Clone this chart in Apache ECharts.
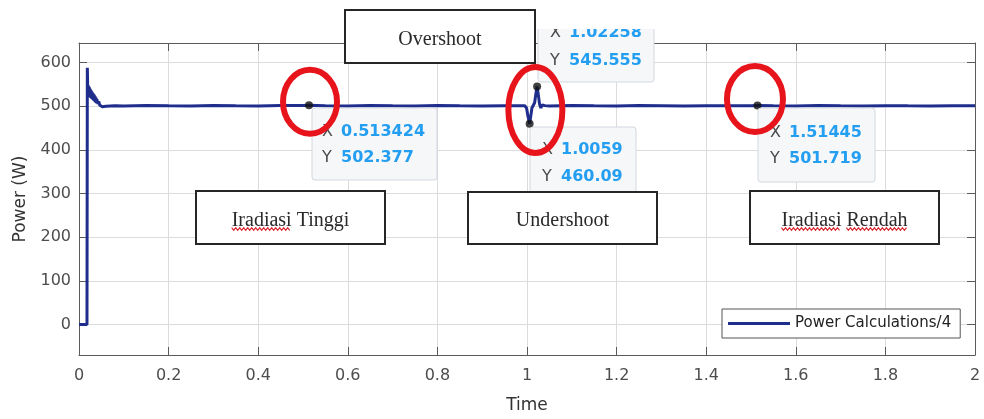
<!DOCTYPE html>
<html><head><meta charset="utf-8">
<script src="https://cdn.jsdelivr.net/npm/echarts@6/dist/echarts.min.js"></script>
<style>html,body{margin:0;padding:0;background:#fff}#c{width:984px;height:419px}</style>
</head><body><div id="c"></div>
<script>
const seriesName = 'Power Calculations/4';
const timeValues = [0, 0.0178, 0.0186, 0.0192, 0.0198, 0.0204, 0.021, 0.0216, 0.0222, 0.0228, 0.0234, 0.024, 0.0246, 0.0252, 0.0258, 0.0264, 0.027, 0.0276, 0.0282, 0.0288, 0.0294, 0.03, 0.031, 0.032, 0.033, 0.034, 0.035, 0.036, 0.037, 0.038, 0.039, 0.04, 0.042, 0.044, 0.046, 0.048, 0.05, 0.052, 0.055, 0.06, 0.08, 0.1, 0.15, 0.2, 0.25, 0.3, 0.35, 0.4, 0.45, 0.5, 0.513424, 0.55, 0.6, 0.65, 0.7, 0.75, 0.8, 0.85, 0.9, 0.95, 0.995, 0.999, 1.002, 1.0059, 1.0085, 1.011, 1.014, 1.017, 1.02, 1.02258, 1.025, 1.028, 1.031, 1.034, 1.037, 1.04, 1.05, 1.1, 1.15, 1.2, 1.25, 1.3, 1.35, 1.4, 1.45, 1.5, 1.51445, 1.55, 1.6, 1.65, 1.7, 1.75, 1.8, 1.85, 1.9, 1.95, 2.0];
const powerValues = [0, 0, 588, 556, 522, 548, 524, 546, 523, 544, 522, 541, 521, 539, 520, 537, 519, 535, 518, 533, 517, 531, 515, 529, 513, 526, 511, 523, 509, 520, 507, 516, 505, 511, 503, 506, 501, 499, 498, 500, 501.2, 500.6, 501.8, 501.1, 500.7, 501.9, 501.3, 500.9, 502.0, 501.6, 502.377, 501.3, 500.9, 501.7, 501.1, 500.7, 501.6, 501.0, 500.8, 501.4, 501.2, 496, 478, 460.09, 478, 496, 500, 508, 530, 545.555, 528, 505, 496, 503, 499, 501.5, 500.4, 501.6, 501.0, 500.8, 501.5, 501.1, 500.7, 501.4, 501.0, 501.2, 501.719, 501.1, 500.8, 501.5, 501.0, 500.7, 501.4, 501.1, 500.9, 501.3, 501.0];
const yTickValues = [0, 100, 200, 300, 400, 500, 600];
const tipTimes = [0.513424, 1.02258, 1.0059, 1.51445];
const tipPowers = [502.377, 545.555, 460.09, 501.719];
const tipLabelsX = ['0.513424', '1.02258', '1.0059', '1.51445'];
const tipLabelsY = ['502.377', '545.555', '460.09', '501.719'];
const annotationTexts = ['Overshoot', 'Iradiasi Tinggi', 'Undershoot', 'Iradiasi Rendah'];

const chart = echarts.init(document.getElementById('c'));
const SANS = 'DejaVu Sans';
const axisColor = '#5a5a5a';
const gridColor = '#dcdcdc';
const labelColor = '#4d4d4d';

const linePairs = timeValues.map((t, i) => [t, powerValues[i]]);
const tipPairs = tipTimes.map((t, i) => [t, tipPowers[i]]);

const baseX = {
  type: 'value', min: 0, max: 2, interval: 0.2,
  axisLine: { show: true, onZero: false, lineStyle: { color: axisColor, width: 1 } },
  axisTick: { show: true, inside: true, length: 8, lineStyle: { color: axisColor } }
};
const baseY = {
  type: 'value', min: -70, max: 645,
  axisLine: { show: true, onZero: false, lineStyle: { color: axisColor, width: 1 } },
  axisTick: { show: true, inside: true, length: 8, customValues: yTickValues, lineStyle: { color: axisColor } }
};

chart.setOption({
  animation: false,
  backgroundColor: '#fff',
  grid: { left: 79, right: 9, top: 43, bottom: 62, containLabel: false },
  legend: {
    data: [seriesName], left: 722, top: 309,
    icon: 'rect', itemWidth: 62, itemHeight: 3,
    padding: [7, 9, 7, 6],
    backgroundColor: '#fff', borderColor: '#555', borderWidth: 1,
    textStyle: { fontFamily: SANS, fontSize: 15, color: '#222' }
  },
  xAxis: [
    Object.assign({}, baseX, {
      position: 'bottom',
      axisLabel: { margin: 13, fontFamily: SANS, fontSize: 16, color: labelColor },
      splitLine: { show: true, lineStyle: { color: gridColor, width: 1 } },
      name: 'Time', nameLocation: 'middle', nameGap: 42,
      nameTextStyle: { fontFamily: SANS, fontSize: 17, color: '#333' }
    }),
    Object.assign({}, baseX, {
      position: 'top', axisLabel: { show: false }, splitLine: { show: false }
    })
  ],
  yAxis: [
    Object.assign({}, baseY, {
      position: 'left',
      axisLabel: { margin: 8, fontFamily: SANS, fontSize: 16, color: labelColor, customValues: yTickValues },
      splitLine: { show: true, lineStyle: { color: gridColor, width: 1 } },
      name: 'Power (W)', nameLocation: 'middle', nameGap: 46, nameRotate: 90,
      nameTextStyle: { fontFamily: SANS, fontSize: 17, color: '#333' }
    }),
    Object.assign({}, baseY, {
      position: 'right', axisLabel: { show: false, customValues: yTickValues }, splitLine: { show: false }
    })
  ],
  series: [
    {
      type: 'line', name: seriesName, data: linePairs, showSymbol: false,
      lineStyle: { color: '#1f2d8c', width: 3 }, itemStyle: { color: '#1f2d8c' },
      z: 2, silent: true
    },
    {
      type: 'scatter', name: 'tips', data: tipPairs, symbolSize: 8,
      itemStyle: { color: '#111' }, z: 5, silent: true
    }
  ]
});

// annotations
const px = p => chart.convertToPixel({ xAxisIndex: 0, yAxisIndex: 0 }, p);
const tp = tipPairs.map(px);
const graphics = [];

// datatip boxes: [left, top, width, height, keyX, line1Y, line2Y]
const tipBoxes = [
  [312, 108, 125, 72, 322, 132, 158],
  [538, -10, 116, 92, 550, 33, 61],
  [530, 127, 106, 75, 542, 150, 177],
  [758, 108, 117, 74, 770, 133, 159]
];
tipBoxes.forEach((b, i) => {
  graphics.push({ type: 'rect', shape: { x: b[0], y: b[1], width: b[2], height: b[3], r: 3 },
    style: { fill: '#f6f7f9', stroke: '#d3d8df', lineWidth: 1 }, z: 10 });
  [[b[5], 'X', tipLabelsX[i]], [b[6], 'Y', tipLabelsY[i]]].forEach(r => {
    graphics.push({ type: 'text', x: b[4], y: r[0], z: 11,
      style: { text: r[1], fill: '#4a4a4a', font: '16px "DejaVu Sans"', verticalAlign: 'middle' } });
    graphics.push({ type: 'text', x: b[4] + 19, y: r[0], z: 11,
      style: { text: r[2], fill: '#239ef0', font: 'bold 16px "DejaVu Sans"', verticalAlign: 'middle' } });
  });
});
// cut top of tip 2
graphics.push({ type: 'rect', shape: { x: 536, y: 0, width: 130, height: 29 }, style: { fill: '#fff' }, z: 12 });

// text boxes
const boxes = [
  [345, 10, 190, 53, 40],
  [196, 191, 189, 53, 221],
  [468, 192, 189, 52, 221],
  [750, 191, 189, 53, 221]
];
const serifFont = '20px "Liberation Serif"';
const ctx = document.createElement('canvas').getContext('2d');
ctx.font = serifFont;
function wave(x0, x1, y) {
  const pts = [];
  let k = 0;
  for (let x = x0; x <= x1; x += 2, k++) pts.push([x, y + (k % 2 ? 1.3 : -1.3)]);
  return { type: 'polyline', shape: { points: pts }, style: { stroke: '#d9262e', lineWidth: 1.2, fill: null }, z: 15 };
}
boxes.forEach((b, i) => {
  graphics.push({ type: 'rect', shape: { x: b[0], y: b[1], width: b[2], height: b[3] },
    style: { fill: '#fff', stroke: '#262626', lineWidth: 2 }, z: 13 });
  const cx = b[0] + b[2] / 2;
  graphics.push({ type: 'text', x: cx, y: b[4], z: 14,
    style: { text: annotationTexts[i], fill: '#2a2a2a', font: serifFont, align: 'center', verticalAlign: 'middle' } });
  const txt = annotationTexts[i];
  if (txt.indexOf('Iradiasi') === 0) {
    const total = ctx.measureText(txt).width;
    const start = cx - total / 2;
    const w1 = ctx.measureText('Iradiasi').width;
    graphics.push(wave(start, start + w1, b[4] + 8));
    if (txt.indexOf('Rendah') > 0) {
      const w2 = ctx.measureText('Iradiasi ').width;
      graphics.push(wave(start + w2, start + total, b[4] + 8));
    }
  }
});

// red ellipses around the datatips
const ell = [
  [tp[0][0] + 1, tp[0][1] - 3.5, 27, 32],
  [(tp[1][0] + tp[2][0]) / 2 + 2, (tp[1][1] + tp[2][1]) / 2 + 5, 27, 43],
  [tp[3][0] - 2.5, tp[3][1] - 6.5, 28, 33]
];
ell.forEach(e => {
  graphics.push({ type: 'ellipse', shape: { cx: e[0], cy: e[1], rx: e[2], ry: e[3] },
    style: { fill: null, stroke: '#e8141c', lineWidth: 6 }, z: 16 });
});

chart.setOption({ graphic: graphics });
</script>
</body></html>
